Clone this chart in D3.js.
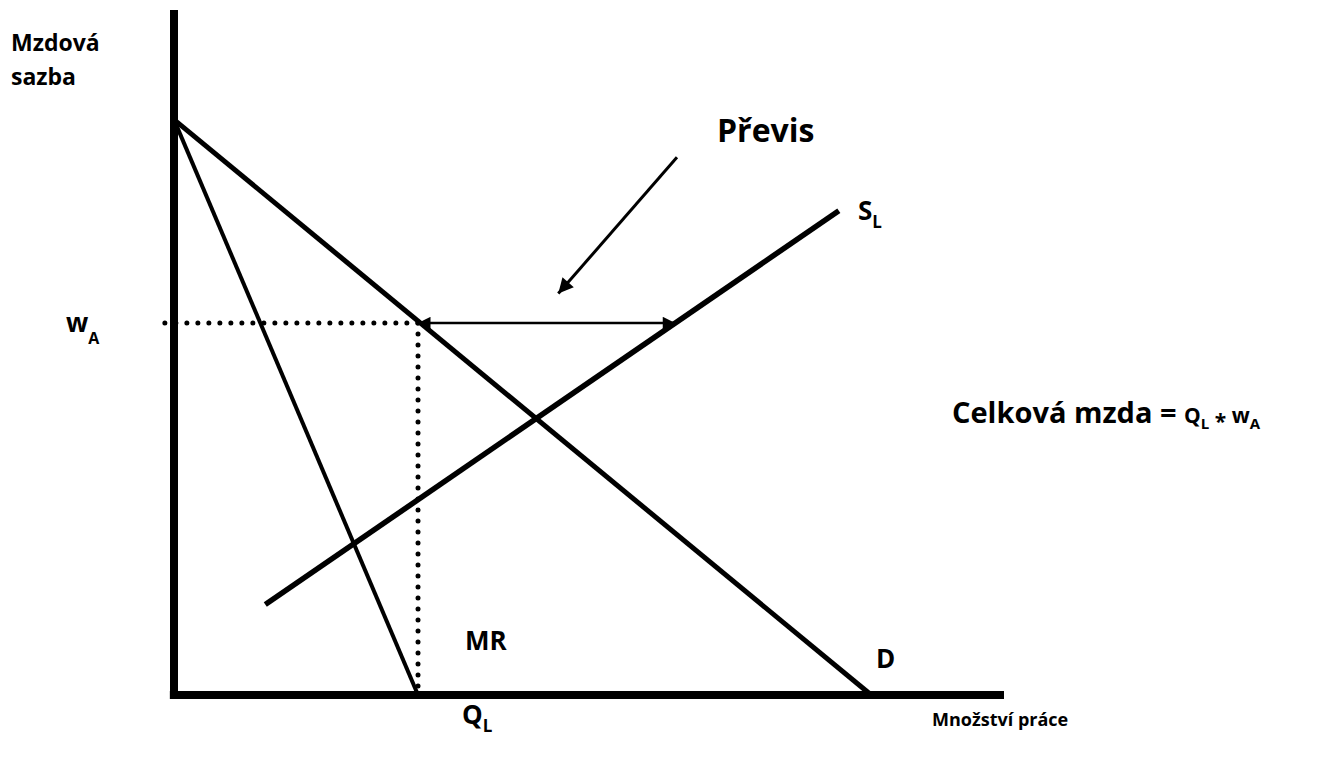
<!DOCTYPE html>
<html>
<head>
<meta charset="utf-8">
<script src="https://cdn.jsdelivr.net/npm/d3@7"></script>
<style>
  body { margin: 0; background: #fff; }
  svg { display: block; }
  text { font-family: "Open Sans", Lato, sans-serif; font-weight: bold; fill: #000; }
</style>
</head>
<body>
<svg width="1337" height="757"></svg>
<script>
// chart data (quantity 0..100, wage 0..100)
var demand = [[0, 84], [84, 0]];
var marginalRevenue = [[0, 84], [29.4, 0]];
var supply = [[11, 13.2], [80.1, 70.7]];
var wageA = 54.3;
var quantityL = 29.4;
var surplusPointer = [[60.6, 78.5], [46.3, 58.6]];

var svg = d3.select('svg');

var x = d3.scaleLinear().domain([0, 100]).range([174, 1004]);
var y = d3.scaleLinear().domain([0, 100]).range([695, 10]);

var line = d3.line()
    .x(d => x(d[0]))
    .y(d => y(d[1]));

var defs = svg.append('defs');
function arrowMarker(id, orient) {
    defs.append('marker')
        .attr('id', id)
        .attr('viewBox', '0 0 10 10')
        .attr('refX', 10)
        .attr('refY', 5)
        .attr('markerWidth', 6.5)
        .attr('markerHeight', 5)
        .attr('markerUnits', 'strokeWidth')
        .attr('orient', orient)
        .append('path')
        .attr('d', 'M0,0L10,5L0,10z')
        .attr('fill', '#000');
}
arrowMarker('arrow', 'auto');
arrowMarker('arrow2', 'auto-start-reverse');

// dotted guides
function dotted(pts) {
    svg.append('path')
        .attr('d', line(pts))
        .attr('stroke', '#000')
        .attr('stroke-width', 5)
        .attr('stroke-linecap', 'round')
        .attr('stroke-dasharray', '0 11')
        .attr('fill', 'none');
}
dotted([[-1.1, wageA], [quantityL, wageA]]);
dotted([[quantityL, wageA], [quantityL, 0]]);

// axes
svg.append('path')
    .attr('d', line([[0, 100], [0, -0.6]]))
    .attr('stroke', '#000')
    .attr('stroke-width', 8)
    .attr('fill', 'none');
svg.append('path')
    .attr('d', line([[-0.5, 0], [100, 0]]))
    .attr('stroke', '#000')
    .attr('stroke-width', 8)
    .attr('fill', 'none');

// curves
var curves = [
    { data: demand, width: 5 },
    { data: marginalRevenue, width: 4 },
    { data: supply, width: 5.5 }
];
svg.selectAll('path.curve')
    .data(curves)
    .enter()
    .append('path')
    .attr('class', 'curve')
    .attr('d', d => line(d.data))
    .attr('stroke', '#000')
    .attr('stroke-width', d => d.width)
    .attr('fill', 'none');

// surplus double arrow
var sSlope = (supply[1][1] - supply[0][1]) / (supply[1][0] - supply[0][0]);
var qSupply = supply[0][0] + (wageA - supply[0][1]) / sSlope;
svg.append('path')
    .attr('d', line([[quantityL, wageA], [qSupply, wageA]]))
    .attr('stroke', '#000')
    .attr('stroke-width', 2.5)
    .attr('fill', 'none')
    .attr('marker-start', 'url(#arrow2)')
    .attr('marker-end', 'url(#arrow)');

// pointer from label
svg.append('path')
    .attr('d', line(surplusPointer))
    .attr('stroke', '#000')
    .attr('stroke-width', 3)
    .attr('fill', 'none')
    .attr('marker-end', 'url(#arrow)');

// labels
function label(tx, ty, size, parts) {
    var t = svg.append('text')
        .attr('x', tx)
        .attr('y', ty)
        .attr('font-size', size);
    parts.forEach(p => {
        var s = t.append('tspan').text(p.text);
        if (p.size) s.attr('font-size', p.size);
        if (p.dy) s.attr('dy', p.dy);
    });
    return t;
}

label(11, 51, 23, [{ text: 'Mzdová' }]);
label(11, 85, 23, [{ text: 'sazba' }]);
label(66, 332, 26, [{ text: 'w' }, { text: 'A', size: 16, dy: 12 }]);
label(717, 142, 32, [{ text: 'Převis' }]);
label(858, 220, 26, [{ text: 'S' }, { text: 'L', size: 17, dy: 8 }]);
label(465, 650, 26, [{ text: 'MR' }]);
label(876, 668, 26, [{ text: 'D' }]);
label(462, 724, 26, [{ text: 'Q' }, { text: 'L', size: 17, dy: 8 }]);
label(932, 726, 18, [{ text: 'Množství práce' }]);
label(952, 423, 29, [
    { text: 'Celková mzda = ' },
    { text: 'Q', size: 21 },
    { text: 'L', size: 15, dy: 6 },
    { text: ' * ', size: 21, dy: 0 },
    { text: 'w', size: 21, dy: -6 },
    { text: 'A', size: 15, dy: 6 }
]);
</script>
</body>
</html>
